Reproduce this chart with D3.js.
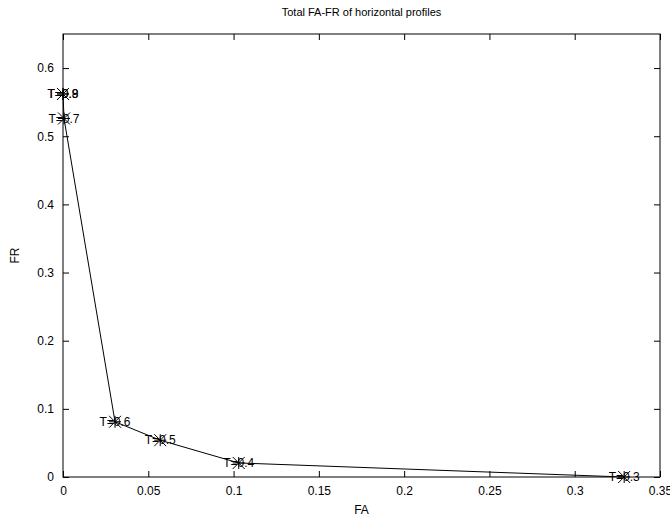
<!DOCTYPE html>
<html>
<head>
<meta charset="utf-8">
<script src="https://cdnjs.cloudflare.com/ajax/libs/d3/7.8.5/d3.min.js"></script>
<style>
  body { margin: 0; background: #fff; }
  text { font-family: "Liberation Sans", Arial, sans-serif; fill: #000; }
</style>
</head>
<body>
<script>
// threshold labels and the FA / FR measured at each one
var labels = ["T=0.3", "T=0.4", "T=0.5", "T=0.6", "T=0.7", "T=0.8", "T=0.9"];
var faValues = [0.329, 0.103, 0.057, 0.0305, 0.0006, 0.0, 0.0];
var frValues = [0.0, 0.0206, 0.054, 0.081, 0.526, 0.562, 0.562];

var xTicks = [0, 0.05, 0.1, 0.15, 0.2, 0.25, 0.3, 0.35];
var yTicks = [0, 0.1, 0.2, 0.3, 0.4, 0.5, 0.6];

var width = 670, height = 520;
var plotLeft = 63, plotRight = 660, plotTop = 34, plotBottom = 477;

var points = labels.map(function(l, i) {
  return {label: l, fa: faValues[i], fr: frValues[i]};
});

var svg = d3.select("body").append("svg")
    .attr("width", width)
    .attr("height", height);

var x = d3.scaleLinear().domain([0, 0.35]).range([plotLeft, plotRight]);
var y = d3.scaleLinear().domain([0, 0.65]).range([plotBottom, plotTop]);

var fmt = function(d) { return d === 0 ? "0" : d3.format("~g")(d); };

// axes, ticks pointing into the plot, mirrored on the opposite side
svg.append("g")
    .attr("transform", "translate(0," + plotBottom + ")")
    .call(d3.axisBottom(x).tickValues(xTicks).tickFormat(fmt).tickSizeInner(-6).tickSizeOuter(0).tickPadding(9));
svg.append("g")
    .attr("transform", "translate(0," + plotTop + ")")
    .call(d3.axisTop(x).tickValues(xTicks).tickFormat("").tickSizeInner(-6).tickSizeOuter(0));
svg.append("g")
    .attr("transform", "translate(" + plotLeft + ",0)")
    .call(d3.axisLeft(y).tickValues(yTicks).tickFormat(fmt).tickSizeInner(-6).tickSizeOuter(0).tickPadding(9));
svg.append("g")
    .attr("transform", "translate(" + plotRight + ",0)")
    .call(d3.axisRight(y).tickValues(yTicks).tickFormat("").tickSizeInner(-6).tickSizeOuter(0));

svg.selectAll(".tick text").style("font-size", "12px").style("font-family", "Liberation Sans, Arial, sans-serif");
svg.selectAll(".domain").remove();

svg.append("rect")
    .attr("x", plotLeft).attr("y", plotTop)
    .attr("width", plotRight - plotLeft).attr("height", plotBottom - plotTop)
    .attr("fill", "none").attr("stroke", "#000").attr("stroke-width", 1);

// connecting line
var line = d3.line()
    .x(function(d) { return x(d.fa); })
    .y(function(d) { return y(d.fr); });

svg.append("path")
    .datum(points)
    .attr("d", line)
    .attr("fill", "none")
    .attr("stroke", "#000")
    .attr("stroke-width", 1);

// point labels, centred on the point
svg.selectAll(".plabel")
    .data(points)
    .enter().append("text")
    .attr("class", "plabel")
    .attr("x", function(d) { return x(d.fa); })
    .attr("y", function(d) { return y(d.fr); })
    .attr("dy", "0.35em")
    .attr("text-anchor", "middle")
    .style("font-size", "12px")
    .text(function(d) { return d.label; });

// asterisk markers
var s = 6;
svg.selectAll(".pt")
    .data(points)
    .enter().append("path")
    .attr("class", "pt")
    .attr("transform", function(d) { return "translate(" + x(d.fa) + "," + y(d.fr) + ")"; })
    .attr("d", "M" + (-s) + ",0H" + s + "M0," + (-s) + "V" + s +
               "M" + (-s) + "," + (-s) + "L" + s + "," + s +
               "M" + (-s) + "," + s + "L" + s + "," + (-s))
    .attr("stroke", "#000")
    .attr("stroke-width", 1)
    .attr("fill", "none");

// titles
svg.append("text")
    .attr("x", (plotLeft + plotRight) / 2).attr("y", 16)
    .attr("text-anchor", "middle")
    .style("font-size", "11px")
    .text("Total FA-FR of horizontal profiles");

svg.append("text")
    .attr("x", (plotLeft + plotRight) / 2).attr("y", 514)
    .attr("text-anchor", "middle")
    .style("font-size", "12px")
    .text("FA");

svg.append("text")
    .attr("transform", "translate(19," + ((plotTop + plotBottom) / 2) + ") rotate(-90)")
    .attr("text-anchor", "middle")
    .style("font-size", "12px")
    .text("FR");
</script>
</body>
</html>
